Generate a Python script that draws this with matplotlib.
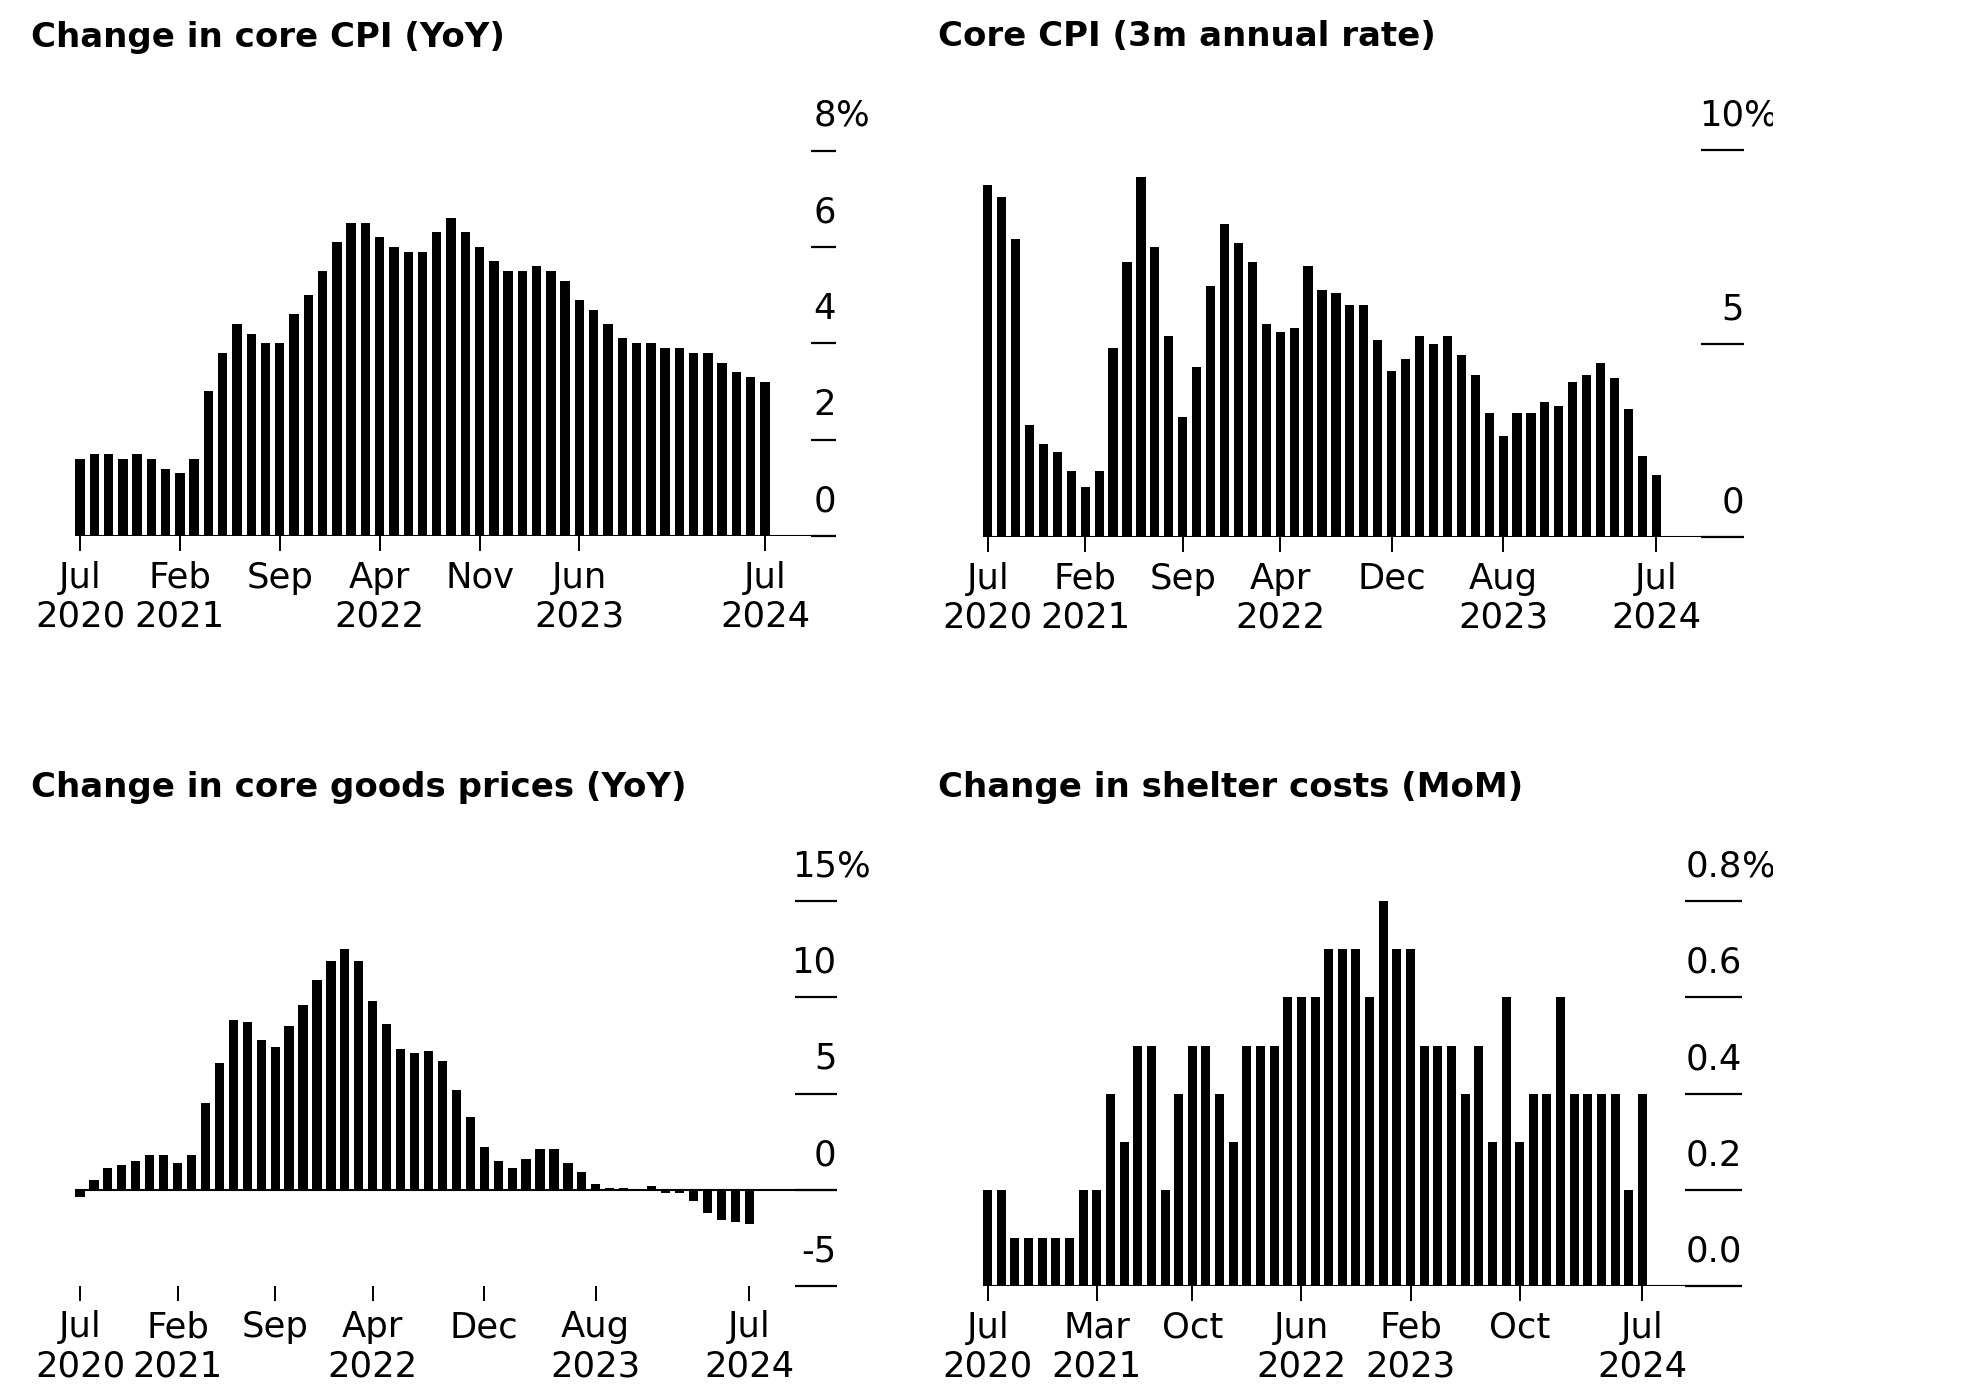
import matplotlib
matplotlib.use("Agg")
import matplotlib.pyplot as plt
from matplotlib.transforms import Bbox, TransformedBbox, offset_copy
import numpy as np

plt.rcParams['font.family'] = ['DejaVu Sans']

# months Jul 2020 .. Jul 2024
months = np.arange(49)

core_cpi_yoy = [1.6, 1.7, 1.7, 1.6, 1.7, 1.6, 1.4, 1.3, 1.6,
                3.0, 3.8, 4.4, 4.2, 4.0, 4.0, 4.6, 5.0, 5.5,
                6.1, 6.5, 6.5, 6.2, 6.0, 5.9, 5.9, 6.3, 6.6,
                6.3, 6.0, 5.7, 5.5, 5.5, 5.6, 5.5, 5.3, 4.9,
                4.7, 4.4, 4.1, 4.0, 4.0, 3.9, 3.9, 3.8, 3.8,
                3.6, 3.4, 3.3, 3.2]

core_cpi_3m = [9.1, 8.8, 7.7, 2.9, 2.4, 2.2, 1.7, 1.3, 1.7,
               4.9, 7.1, 9.3, 7.5, 5.2, 3.1, 4.4, 6.5, 8.1,
               7.6, 7.1, 5.5, 5.3, 5.4, 7.0, 6.4, 6.3, 6.0,
               6.0, 5.1, 4.3, 4.6, 5.2, 5.0, 5.2, 4.7, 4.2,
               3.2, 2.6, 3.2, 3.2, 3.5, 3.4, 4.0, 4.2, 4.5,
               4.1, 3.3, 2.1, 1.6]

core_goods_yoy = [-0.4, 0.5, 1.1, 1.3, 1.5, 1.8, 1.8, 1.4, 1.8,
                  4.5, 6.6, 8.8, 8.7, 7.8, 7.4, 8.5, 9.6, 10.9,
                  11.9, 12.5, 11.9, 9.8, 8.6, 7.3, 7.1, 7.2, 6.7,
                  5.2, 3.8, 2.2, 1.5, 1.1, 1.6, 2.1, 2.1, 1.4,
                  0.9, 0.3, 0.1, 0.1, 0.05, 0.2, -0.2, -0.2, -0.6,
                  -1.2, -1.6, -1.7, -1.8]

shelter_mom = [0.2, 0.2, 0.1, 0.1, 0.1, 0.1, 0.1, 0.2, 0.2,
               0.4, 0.3, 0.5, 0.5, 0.2, 0.4, 0.5, 0.5, 0.4,
               0.3, 0.5, 0.5, 0.5, 0.6, 0.6, 0.6, 0.7, 0.7,
               0.7, 0.6, 0.8, 0.7, 0.7, 0.5, 0.5, 0.5, 0.4,
               0.5, 0.3, 0.6, 0.3, 0.4, 0.4, 0.6, 0.4, 0.4,
               0.4, 0.4, 0.2, 0.4]

titles = ["Change in core CPI (YoY)", "Core CPI (3m annual rate)",
          "Change in core goods prices (YoY)", "Change in shelter costs (MoM)"]

ticks_a = [0, 7, 14, 21, 28, 35, 48]
labels_a = ["Jul\n2020", "Feb\n2021", "Sep", "Apr\n2022", "Nov", "Jun\n2023", "Jul\n2024"]
ticks_b = [0, 7, 14, 21, 29, 37, 48]
labels_b = ["Jul\n2020", "Feb\n2021", "Sep", "Apr\n2022", "Dec", "Aug\n2023", "Jul\n2024"]
ticks_d = [0, 8, 15, 23, 31, 39, 48]
labels_d = ["Jul\n2020", "Mar\n2021", "Oct", "Jun\n2022", "Feb\n2023", "Oct", "Jul\n2024"]

yt_a = [0, 2, 4, 6, 8]
yl_a = ["0", "2", "4", "6", "8"]
yt_b = [0, 5, 10]
yl_b = ["0", "5", "10"]
yt_c = [-5, 0, 5, 10, 15]
yl_c = ["-5", "0", "5", "10", "15"]
yt_d = [0.0, 0.2, 0.4, 0.6, 0.8]
yl_d = ["0.0", "0.2", "0.4", "0.6", "0.8"]

W, H = 1976, 1396
fig = plt.figure(figsize=(W / 100, H / 100), dpi=100)
clip = TransformedBbox(Bbox.from_extents(0, 0, 1773 / W, 1), fig.transFigure)

FS = 25.5


def panel(values, xt, xl, yt, yl, ylim, c0, step, right, ybot, ytop, tick_px):
    left = c0 - 0.325 * step
    ax = fig.add_axes([left / W, 1 - ybot / H, (right - left) / W, (ybot - ytop) / H])
    ax.bar(months, values, width=0.66, color="black", linewidth=0)
    ax.axhline(0, color="black", lw=1.5)
    ax.set_xlim(-0.325, (right - c0) / step)
    ax.set_ylim(*ylim)
    for s in ax.spines.values():
        s.set_visible(False)
    ax.set_xticks(xt, xl, fontsize=FS, linespacing=1.18)
    ax.tick_params(axis="x", length=10.8, width=1.4, pad=7, color="black")
    ax.yaxis.tick_right()
    ax.set_yticks(yt)
    ax.tick_params(axis="y", direction="in", length=tick_px * 0.72, width=1.6,
                   labelright=False, labelleft=False)
    tr = offset_copy(ax.get_yaxis_transform(), fig=fig, x=0, y=24.6, units="dots")
    for v, s in zip(yt, yl):
        ax.text(1, v, s, transform=tr, ha="right", va="baseline", fontsize=FS)
    pct = ax.text(1, yt[-1], "%", transform=tr, ha="left", va="baseline", fontsize=FS)
    pct.set_clip_path(None)
    pct.set_clip_box(clip)
    pct.set_clip_on(True)
    return ax


panel(core_cpi_yoy, ticks_a, labels_a, yt_a, yl_a, (0, 8),
      80.0, 14.27, 836, 536, 150.5, 25.5)
panel(core_cpi_3m, ticks_b, labels_b, yt_b, yl_b, (0, 10),
      987.7, 13.93, 1744, 537, 150.3, 43)
panel(core_goods_yoy, ticks_b, labels_b, yt_c, yl_c, (-5, 15),
      80.0, 13.94, 836.7, 1285.7, 901.3, 42)
panel(shelter_mom, ticks_d, labels_d, yt_d, yl_d, (0, 0.8),
      987.7, 13.64, 1742.4, 1286, 901.3, 57)

title_pos = [(31, 46.5), (937.5, 46.5), (31, 796.8), (937.5, 796.8)]
for t, (x, y) in zip(titles, title_pos):
    fig.text(x / W, 1 - y / H, t, fontsize=24.5, fontweight="bold",
             ha="left", va="baseline")

fig.savefig("out.png", dpi=100)
